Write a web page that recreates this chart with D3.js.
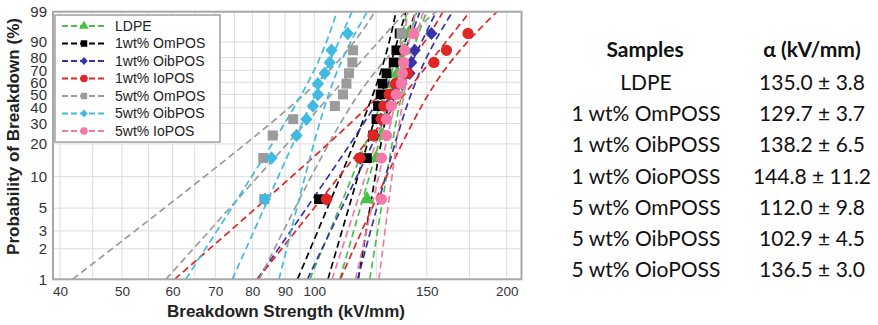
<!DOCTYPE html>
<html>
<head>
<meta charset="utf-8">
<script src="https://cdn.jsdelivr.net/npm/d3@7/dist/d3.min.js"></script>
<style>
  body { margin: 0; background: #fff; }
  svg { display: block; }
</style>
</head>
<body>
<svg id="chart" width="878" height="325"></svg>
<script>
// ===== data =====
// plotting positions (%) of the 11 specimens (same for every sample)
const ranks = [6.1, 14.9, 23.7, 32.5, 41.2, 50.0, 58.8, 67.5, 76.3, 85.1, 93.9];

const legendLabels = ["LDPE", "1wt% OmPOS", "1wt% OibPOS", "1wt% IoPOS", "5wt% OmPOS", "5wt% OibPOS", "5wt% IoPOS"];
const tableSamples = ["LDPE", "1 wt% OmPOSS", "1 wt% OibPOSS", "1 wt% OioPOSS", "5 wt% OmPOSS", "5 wt% OibPOSS", "5 wt% OioPOSS"];

// Weibull scale (alpha, kV/mm) and its 95% half width, from the table
const alpha    = [135.0, 129.7, 138.2, 144.8, 112.0, 102.9, 136.5];
const alphaErr = [3.8, 3.7, 6.5, 11.2, 9.8, 4.5, 3.0];
const beta     = [22.1, 21.8, 13.2, 8.0, 7.1, 14.2, 28.3];

// breakdown strength of each specimen (kV/mm), one array per sample
const ldpe      = [120.9, 125.0, 127.5, 129.0, 130.5, 132.0, 133.5, 135.0, 137.0, 138.5, 140.5];
const omPoss1   = [101.7, 120.9, 123.6, 125.1, 125.8, 127.0, 127.9, 129.7, 133.1, 134.4, 136.0];
const oibPoss1  = [104.5, 118.0, 124.0, 127.0, 130.0, 133.0, 137.0, 141.0, 141.9, 143.6, 152.5];
const ioPoss1   = [104.5, 117.8, 123.6, 127.3, 128.5, 131.0, 134.0, 140.0, 153.9, 161.0, 174.0];
const omPoss5   = [83.5, 83.2, 86.1, 92.7, 107.7, 110.9, 112.3, 113.3, 114.7, 115.0, 136.9];
const oibPoss5  = [83.7, 85.7, 93.8, 97.2, 99.5, 101.3, 101.3, 103.8, 105.7, 106.4, 112.8];
const ioPoss5   = [127.4, 127.4, 129.7, 129.7, 132.0, 134.4, 136.8, 137.3, 138.0, 138.5, 143.1];
const strengths = [ldpe, omPoss1, oibPoss1, ioPoss1, omPoss5, oibPoss5, ioPoss5];
const sampleSize = 11;

// axis ticks / grid
const xTicks = [40, 50, 60, 70, 80, 90, 100, 150, 200];
const xGrid  = [40, 45, 50, 55, 60, 65, 70, 75, 80, 85, 90, 95, 100, 125, 150, 175, 200];
const yTicks = [1, 2, 3, 5, 10, 20, 30, 40, 50, 60, 70, 80, 90, 99];

// ===== styles =====
const colors = ["#46c346", "#000000", "#3434a6", "#df2525", "#9b9b9b", "#3fbbe3", "#f37aa8"];
// squat diamond like the plotting program uses (d3's own is too tall)
const diamond = {
  draw(ctx, size) {
    const r = Math.sqrt(size / 2);
    ctx.moveTo(0, -r * 1.1); ctx.lineTo(r, 0); ctx.lineTo(0, r * 1.1); ctx.lineTo(-r, 0); ctx.closePath();
  }
};
const shapes = [d3.symbolTriangle, d3.symbolSquare, diamond, d3.symbolCircle,
                d3.symbolSquare, diamond, d3.symbolCircle];
const markSize = [85, 95, 72, 100, 100, 75, 100];
const legendSize = [40, 42, 28, 45, 42, 28, 45];

const svg = d3.select('#chart');
const plot = { left: 53, right: 521.5, top: 11.7, bottom: 279.3 };

// Weibull probability transform: ln(-ln(1-F))
const wb = p => Math.log(-Math.log(1 - p / 100));

const x = d3.scaleLog().domain([39, 211]).range([plot.left, plot.right]);
const y = d3.scaleLinear().domain([wb(1), wb(99)]).range([plot.bottom, plot.top]);

svg.append('defs').append('clipPath').attr('id', 'plotClip')
  .append('rect')
  .attr('x', plot.left).attr('y', plot.top)
  .attr('width', plot.right - plot.left).attr('height', plot.bottom - plot.top);

// grid
const grid = svg.append('g').attr('class', 'grid');
grid.selectAll('line.gx').data(xGrid).enter().append('line')
  .attr('x1', d => x(d)).attr('x2', d => x(d))
  .attr('y1', plot.top).attr('y2', plot.bottom)
  .attr('stroke', '#dcdcdc').attr('stroke-width', 1);
grid.selectAll('line.gy').data(yTicks).enter().append('line')
  .attr('x1', plot.left).attr('x2', plot.right)
  .attr('y1', d => y(wb(d))).attr('y2', d => y(wb(d)))
  .attr('stroke', '#dcdcdc').attr('stroke-width', 1);

// axes (labels only, no tick marks)
const axisFont = '"Liberation Sans", Arial, sans-serif';
const yAxis = svg.append('g')
  .attr('transform', `translate(${plot.left},0)`)
  .call(d3.axisLeft(y).tickValues(yTicks.map(wb)).tickFormat((d, i) => yTicks[i]).tickSize(0).tickPadding(6));
yAxis.select('.domain').remove();
yAxis.selectAll('text').attr('font-family', axisFont).attr('font-size', 15).attr('fill', '#333');

const xAxis = svg.append('g')
  .attr('transform', `translate(0,${plot.bottom})`)
  .call(d3.axisBottom(x).tickValues(xTicks).tickFormat(d3.format('d')).tickSize(0).tickPadding(7));
xAxis.select('.domain').remove();
xAxis.selectAll('text').attr('font-family', axisFont).attr('font-size', 13.5).attr('fill', '#333');

// axis titles (the source picture is slightly stretched sideways)
svg.append('text')
  .attr('x', 167).attr('y', 317)
  .attr('textLength', 238).attr('lengthAdjust', 'spacingAndGlyphs')
  .attr('font-family', axisFont).attr('font-weight', 'bold').attr('font-size', 16.5).attr('fill', '#222')
  .text('Breakdown Strength (kV/mm)');
svg.append('text')
  .attr('transform', 'translate(19,255) rotate(-90)')
  .attr('textLength', 237).attr('lengthAdjust', 'spacingAndGlyphs')
  .attr('font-family', axisFont).attr('font-weight', 'bold').attr('font-size', 16).attr('fill', '#222')
  .text('Probability of Breakdown (%)');

// ===== fitted lines + 95% bounds =====
const wSteps = d3.range(0, 101).map(i => wb(1) + (wb(99) - wb(1)) * i / 100);
const lineGen = d3.line().x(d => x(d.s)).y(d => y(d.w));
const lines = svg.append('g').attr('clip-path', 'url(#plotClip)');

strengths.forEach((pts, k) => {
  const a = alpha[k], b = beta[k];
  // percentile variance of the Weibull fit (Fisher matrix, n = 11)
  const sd = w => Math.sqrt((1.1087 - 0.514 * w + 0.6079 * w * w) / sampleSize) / b;
  const centre = wSteps.map(w => ({ w, s: a * Math.exp(w / b) }));
  const lower  = wSteps.map(w => ({ w, s: a * Math.exp(w / b - 1.96 * sd(w)) }));
  const upper  = wSteps.map(w => ({ w, s: a * Math.exp(w / b + 1.96 * sd(w)) }));
  [centre, lower, upper].forEach(c => {
    lines.append('path')
      .attr('d', lineGen(c))
      .attr('fill', 'none')
      .attr('stroke', colors[k])
      .attr('stroke-width', 1.7)
      .attr('stroke-dasharray', '7,4');
  });
});

// ===== data points =====
const marks = svg.append('g');
strengths.forEach((pts, k) => {
  marks.selectAll(null).data(pts).enter().append('path')
    .attr('transform', (d, i) => `translate(${x(d)},${y(wb(ranks[i]))})`)
    .attr('d', d3.symbol().type(shapes[k]).size(markSize[k]))
    .attr('fill', colors[k]);
});

// plot border
svg.append('rect')
  .attr('x', plot.left).attr('y', plot.top)
  .attr('width', plot.right - plot.left).attr('height', plot.bottom - plot.top)
  .attr('fill', 'none').attr('stroke', '#a8a8a8').attr('stroke-width', 2);

// ===== legend =====
const legend = svg.append('g');
legend.append('rect')
  .attr('x', 55).attr('y', 15).attr('width', 165).attr('height', 127)
  .attr('fill', '#fff').attr('stroke', '#a0a0a0').attr('stroke-width', 1.5);
legendLabels.forEach((lab, k) => {
  const ly = 26 + k * 17.5;
  legend.append('line')
    .attr('x1', 62).attr('x2', 107).attr('y1', ly).attr('y2', ly)
    .attr('stroke', colors[k]).attr('stroke-width', 1.8).attr('stroke-dasharray', '6,3');
  legend.append('path')
    .attr('transform', `translate(84,${ly})`)
    .attr('d', d3.symbol().type(shapes[k]).size(legendSize[k]))
    .attr('fill', colors[k]);
  legend.append('text')
    .attr('x', 115).attr('y', ly).attr('dy', '0.35em')
    .attr('font-family', axisFont).attr('font-size', 14).attr('fill', '#222')
    .text(lab);
});

// ===== table of alpha values =====
const tableFont = 'Lato, "Open Sans", sans-serif';
const rowY = [82.5, 113.5, 144.5, 176.5, 207.5, 238.5, 269.5];
const table = svg.append('g').attr('font-family', tableFont).attr('fill', '#111');
table.append('text').attr('x', 645).attr('y', 50).attr('dy', '0.35em')
  .attr('text-anchor', 'middle').attr('font-size', 21).attr('font-weight', 'bold')
  .text('Samples');
table.append('text').attr('x', 812).attr('y', 50).attr('dy', '0.35em')
  .attr('text-anchor', 'middle').attr('font-size', 21).attr('font-weight', 'bold')
  .text('\u03b1 (kV/mm)');
tableSamples.forEach((s, k) => {
  table.append('text').attr('x', 646).attr('y', rowY[k]).attr('dy', '0.35em')
    .attr('text-anchor', 'middle').attr('font-size', 21)
    .text(s);
  table.append('text').attr('x', 812).attr('y', rowY[k]).attr('dy', '0.35em')
    .attr('text-anchor', 'middle').attr('font-size', 21)
    .text(`${alpha[k].toFixed(1)} \u00b1 ${alphaErr[k].toFixed(1)}`);
});
</script>
</body>
</html>
